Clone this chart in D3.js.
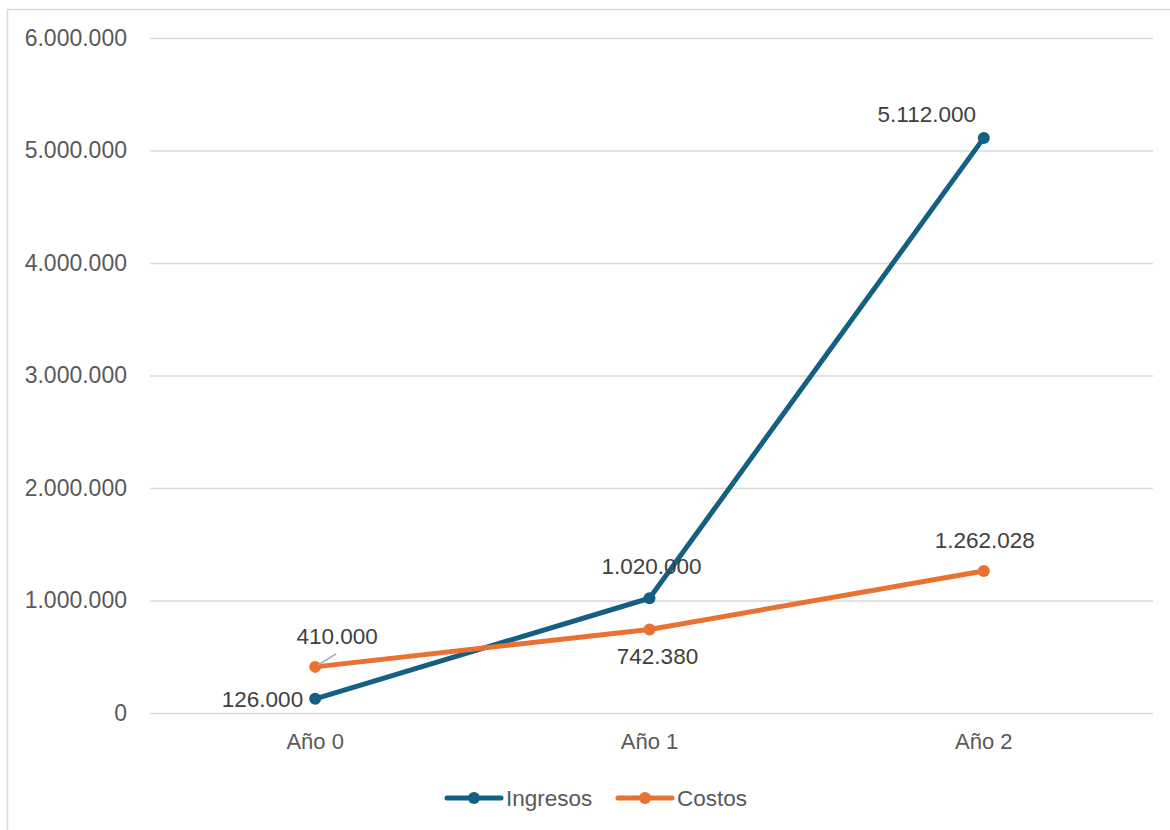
<!DOCTYPE html>
<html>
<head>
<meta charset="utf-8">
<script src="https://cdn.jsdelivr.net/npm/d3@7"></script>
<style>
  body { margin: 0; background: #fff; }
  svg { display: block; font-family: "Liberation Sans", Arial, sans-serif; }
</style>
</head>
<body>
<svg id="chart" width="1170" height="830"></svg>
<script>
const categories = ["Año 0", "Año 1", "Año 2"];
const ingresos = [126000, 1020000, 5112000];
const costos = [410000, 742380, 1262028];
const yTicks = [0, 1000000, 2000000, 3000000, 4000000, 5000000, 6000000];
const seriesNames = ["Ingresos", "Costos"];

const colors = { Ingresos: "#156082", Costos: "#E97132" };

// label placement per point (Excel-like positions)
const labelPos = {
  Ingresos: [{ dx: -12, dy: 0, anchor: "end" }, { dx: 2, dy: -32, anchor: "middle" }, { dx: -57, dy: -24, anchor: "middle" }],
  Costos: [{ dx: 22, dy: -31, anchor: "middle", leader: true }, { dx: 8, dy: 27, anchor: "middle" }, { dx: 1, dy: -31, anchor: "middle" }]
};

const fmt = d3.formatLocale({ decimal: ",", thousands: ".", grouping: [3], currency: ["", ""] }).format(",.0f");

const svg = d3.select("#chart");

// outer chart border
svg.append("rect")
  .attr("x", 7.5).attr("y", 9.5)
  .attr("width", 1180).attr("height", 840)
  .attr("fill", "none").attr("stroke", "#d9d9d9").attr("stroke-width", 1.5);

const x = d3.scaleBand().domain(categories).range([148, 1151]);
const y = d3.scaleLinear().domain([0, 6000000]).range([713, 38]);

// gridlines + y labels
const yAxis = svg.append("g")
  .attr("transform", "translate(150,0)")
  .call(d3.axisLeft(y).tickValues(yTicks).tickFormat(fmt).tickSize(-1003).tickPadding(23));
yAxis.select(".domain").remove();
yAxis.selectAll("line").attr("stroke", "#d9d9d9").attr("stroke-width", 1.5);
yAxis.selectAll("text").attr("fill", "#595959").attr("font-size", 23).attr("font-family", "Liberation Sans, Arial, sans-serif");

// x labels
const xAxis = svg.append("g")
  .attr("transform", "translate(0,713)")
  .call(d3.axisBottom(x).tickSize(0).tickPadding(20));
xAxis.select(".domain").remove();
xAxis.selectAll("text").attr("fill", "#595959").attr("font-size", 22).attr("font-family", "Liberation Sans, Arial, sans-serif");

const cx = c => x(c) + x.bandwidth() / 2;
const series = [
  { name: "Ingresos", values: ingresos },
  { name: "Costos", values: costos }
];

const line = d3.line().x((d, i) => cx(categories[i])).y(d => y(d));

series.forEach(s => {
  const g = svg.append("g");
  g.append("path")
    .datum(s.values)
    .attr("d", line)
    .attr("fill", "none")
    .attr("stroke", colors[s.name])
    .attr("stroke-width", 5)
    .attr("stroke-linejoin", "round")
    .attr("stroke-linecap", "round");
  g.selectAll("circle")
    .data(s.values)
    .join("circle")
    .attr("cx", (d, i) => cx(categories[i]))
    .attr("cy", d => y(d))
    .attr("r", 6)
    .attr("fill", colors[s.name]);
});

// data labels (drawn after lines so they sit on top)
series.forEach(s => {
  s.values.forEach((v, i) => {
    const p = labelPos[s.name][i];
    const px = cx(categories[i]), py = y(v);
    if (p.leader) {
      svg.append("line")
        .attr("x1", px + 3).attr("y1", py - 2)
        .attr("x2", px + 21).attr("y2", py - 13)
        .attr("stroke", "#a6a6a6").attr("stroke-width", 1.5);
    }
    svg.append("text")
      .attr("x", px + p.dx).attr("y", py + p.dy)
      .attr("dy", "0.35em")
      .attr("text-anchor", p.anchor)
      .attr("fill", "#404040")
      .attr("font-size", 22.5)
      .text(fmt(v));
  });
});

// legend
const legend = svg.append("g").attr("transform", "translate(0,798)");
const legendX = [447, 618];
seriesNames.forEach((n, i) => {
  const g = legend.append("g").attr("transform", `translate(${legendX[i]},0)`);
  g.append("line").attr("x1", 0).attr("x2", 54).attr("y1", 0).attr("y2", 0)
    .attr("stroke", colors[n]).attr("stroke-width", 5).attr("stroke-linecap", "round");
  g.append("circle").attr("cx", 27).attr("cy", 0).attr("r", 6).attr("fill", colors[n]);
  g.append("text").attr("x", 59).attr("dy", "0.35em")
    .attr("fill", "#595959").attr("font-size", 22.5).text(n);
});
</script>
</body>
</html>
